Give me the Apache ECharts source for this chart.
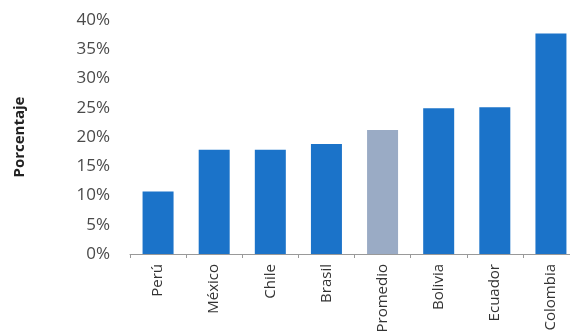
<!DOCTYPE html>
<html><head><meta charset="utf-8">
<script src="https://cdn.jsdelivr.net/npm/echarts@6/dist/echarts.min.js"></script>
<style>html,body{margin:0;padding:0;background:#fff}#c{width:570px;height:332px}</style>
</head><body><div id="c"></div>
<script>
const categories = ['Perú','México','Chile','Brasil','Promedio','Bolivia','Ecuador','Colombia'];
const values = [10.7, 17.8, 17.8, 18.8, 21.2, 24.9, 25.1, 37.7];
const highlight = 'Promedio';

const chart = echarts.init(document.getElementById('c'), null, {renderer:'canvas'});
chart.setOption({
  animation:false,
  grid:{left:130, top:20, width:449, height:234, containLabel:false, outerBoundsMode:'none'},
  xAxis:{
    type:'category', data:categories,
    axisLine:{lineStyle:{color:'#999', width:1}},
    axisTick:{show:true, length:4, lineStyle:{color:'#999'}},
    axisLabel:{rotate:90, fontFamily:'Open Sans', fontSize:15, color:'#333', margin:10}
  },
  yAxis:{
    type:'value', min:0, max:40, interval:5,
    name:'Porcentaje', nameLocation:'middle', nameGap:103,
    nameTextStyle:{fontFamily:'Open Sans', fontWeight:'bold', fontSize:15, color:'#222'},
    axisLine:{show:false}, axisTick:{show:false}, splitLine:{show:false},
    axisLabel:{formatter: v => v + '%', fontFamily:'Open Sans', fontSize:17, color:'#4a4a4a', margin:20}
  },
  series:[{
    type:'bar', barWidth:31,
    data: categories.map((c,i)=>({value:values[i], itemStyle:{color: c===highlight ? '#9aabc5' : '#1b73c9'}}))
  }]
});
</script></body></html>
